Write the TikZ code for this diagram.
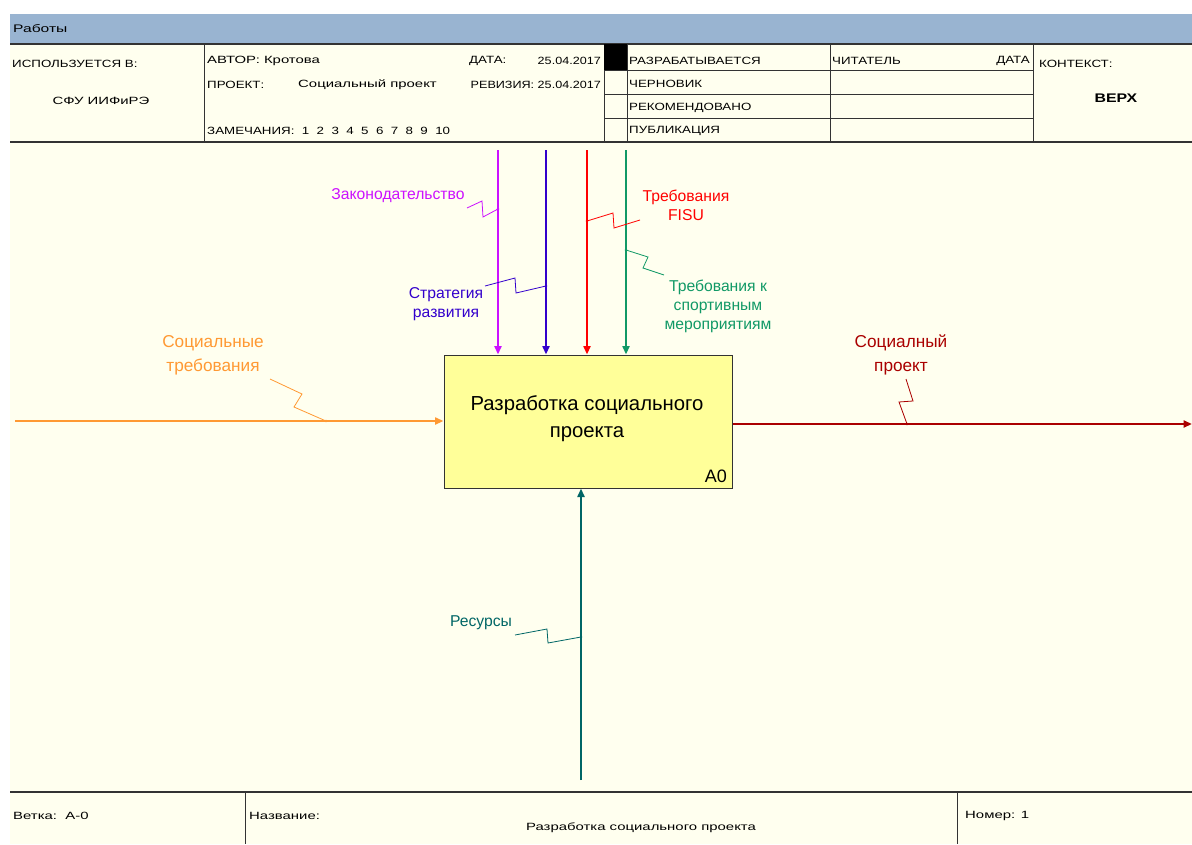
\documentclass[tikz,border=0pt]{standalone}
\usepackage{fontspec}
\setmainfont{Liberation Sans}
\newfontfamily\hdrfont[FakeStretch=1.42]{Liberation Sans}
\newfontfamily\hdrcaps[FakeStretch=1.27]{Liberation Sans}
\newfontfamily\hdrrev[FakeStretch=1.2]{Liberation Sans}
\usetikzlibrary{arrows.meta}
\definecolor{cream}{HTML}{FFFFEF}
\definecolor{barblue}{HTML}{99B4D1}
\definecolor{boxyel}{HTML}{FFFF99}
\definecolor{cpurp}{HTML}{CC11FF}
\definecolor{cblue}{HTML}{3300CC}
\definecolor{cred}{HTML}{FF0000}
\definecolor{cgreen}{HTML}{119966}
\definecolor{corange}{HTML}{FF9933}
\definecolor{cdred}{HTML}{AA0000}
\definecolor{cteal}{HTML}{006666}
\definecolor{rule}{HTML}{333333}
\begin{document}
\begin{tikzpicture}[x=1pt,y=-1pt,
  hdr/.style={font=\hdrfont\fontsize{10.5}{12}\selectfont, inner sep=0pt, anchor=west},
  hcaps/.style={font=\hdrcaps\fontsize{10.5}{12}\selectfont, inner sep=0pt, anchor=west},
  lbl/.style={font=\fontsize{15.7}{19}\selectfont, align=center, inner sep=0pt},
  biglbl/.style={font=\fontsize{17.2}{24}\selectfont, align=center, inner sep=0pt},
  flow/.style={line width=2.3pt, -{Triangle[length=8.5pt,width=7pt]}},
  sq/.style={line width=0.8pt},
  frame/.style={draw=rule, line width=0.8pt}]
\useasboundingbox (0,0) rectangle (1192,844);
\fill[white] (0,0) rectangle (1192,844);
\fill[cream] (10,44) rectangle (1192,844);
% title bar
\fill[barblue] (10,14) rectangle (1192,44);
\node[hdr, font=\hdrfont\fontsize{11}{13}\selectfont] (title) at (13,29) {Работы};
% header frame
\draw[frame, line width=1.4pt] (10,44) -- (1192,44);
\draw[frame, line width=1.4pt] (10,142) -- (1192,142);
\draw[frame] (204,44) -- (204,142);
\draw[frame] (604,44) -- (604,142);
\draw[frame] (627,44) -- (627,142);
\draw[frame] (830,44) -- (830,142);
\draw[frame] (1033,44) -- (1033,142);
\draw[frame] (604,70) -- (1033,70);
\draw[frame] (604,94) -- (1033,94);
\draw[frame] (604,118) -- (1033,118);
\fill[black] (604,44) rectangle (627,70);
% header texts
\node[hcaps] (usedin) at (12,64) {ИСПОЛЬЗУЕТСЯ В:};
\node[hdr, anchor=center] (org) at (101,101) {СФУ ИИФиРЭ};
\node[hdr] (author) at (207,61) {АВТОР: Кротова};
\node[hcaps] (proj) at (207,85) {ПРОЕКТ:};
\node[hdr] (projname) at (298,85) {Социальный проект};
\node[hcaps] (notes) at (207,131) {ЗАМЕЧАНИЯ:\ \ 1\ \ 2\ \ 3\ \ 4\ \ 5\ \ 6\ \ 7\ \ 8\ \ 9\ \ 10};
\node[hcaps] (date) at (469,61) {ДАТА:};
\node[hcaps, font=\hdrrev\fontsize{10.5}{12}\selectfont, anchor=east] (dateval) at (601,61) {25.04.2017};
\node[hcaps, font=\hdrrev\fontsize{10.5}{12}\selectfont, anchor=east] (rev) at (601,85) {РЕВИЗИЯ: 25.04.2017};
\node[hcaps] (st1) at (629,61) {РАЗРАБАТЫВАЕТСЯ};
\node[hcaps] (st2) at (629,84) {ЧЕРНОВИК};
\node[hcaps] (st3) at (629,108) {РЕКОМЕНДОВАНО};
\node[hcaps] (st4) at (629,131) {ПУБЛИКАЦИЯ};
\node[hcaps] (reader) at (832,61) {ЧИТАТЕЛЬ};
\node[hcaps, anchor=east] (rdate) at (1030,61) {ДАТА};
\node[hcaps] (ctx) at (1039,64) {КОНТЕКСТ:};
\node[hdr, anchor=center, font=\hdrcaps\bfseries\fontsize{12.5}{14}\selectfont] (top) at (1116,98) {ВЕРХ};
% footer
\draw[frame, line width=1.6pt] (10,792) -- (1192,792);
\draw[frame] (245,792) -- (245,844);
\draw[frame] (957,792) -- (957,844);
\node[hdr] (branch) at (13,816) {Ветка:\ \ А-0};
\node[hdr] (namel) at (249,816) {Название:};
\node[hdr, anchor=center] (name) at (641,828) {Разработка социального проекта};
\node[hdr] (num) at (965,816) {Номер: 1};
% activity box
\node[draw=rule, line width=1pt, fill=boxyel, minimum width=288pt, minimum height=133pt, inner sep=0pt] (box) at (588,421.5) {};
\node[font=\fontsize{20.3}{27}\selectfont, align=center] (boxtxt) at (587,419) {Разработка социального\\проекта};
\node[font=\fontsize{18}{20}\selectfont, anchor=south east, inner sep=0pt] (a0) at (727,483) {A0};
% controls
\coordinate (c1) at (498,150);
\coordinate (c2) at (546,150);
\coordinate (c3) at (587,150);
\coordinate (c4) at (626,150);
\draw[flow, cpurp] (c1) -- (c1 |- box.north);
\draw[flow, cblue] (c2) -- (c2 |- box.north);
\draw[flow, cred] (c3) -- (c3 |- box.north);
\draw[flow, cgreen] (c4) -- (c4 |- box.north);
% input
\coordinate (in0) at (15,421);
\draw[flow, corange] (in0) -- (in0 -| box.west);
% output
\coordinate (out1) at (1192,424);
\draw[flow, cdred] (out1 -| box.east) -- (out1);
% mechanism
\coordinate (m0) at (581,780);
\draw[flow, cteal] (m0) -- (m0 |- box.south);
% labels
\node[lbl, text=cpurp] (l1) at (398,196) {Законодательство};
\node[lbl, text=cblue] (l2) at (446,304) {Стратегия\\развития};
\node[lbl, text=cred] (l3) at (686,205) {Требования\\FISU};
\node[lbl, text=cgreen] (l4) at (718,306) {Требования к\\спортивным\\мероприятиям};
\node[biglbl, text=corange] (l5) at (213,355) {Социальные\\требования};
\node[biglbl, text=cdred] (l6) at (901,355) {Социалный\\проект};
\node[lbl, text=cteal] (l7) at (481,623) {Ресурсы};
% squiggles
\coordinate (s1a) at (467,208);
\coordinate (s1b) at (498,209);
\draw[sq, cpurp] (s1a) -- (482,201) -- (483,217) -- (s1b);
\fill[cpurp] (s1b) circle (1.3pt);
\coordinate (s2a) at (485,286);
\coordinate (s2b) at (546,286);
\draw[sq, cblue] (s2a) -- (515,278) -- (516,293) -- (s2b);
\fill[cblue] (s2b) circle (1.3pt);
\coordinate (s3a) at (640,220);
\coordinate (s3b) at (587,221);
\draw[sq, cred] (s3a) -- (614,228) -- (613,213) -- (s3b);
\fill[cred] (s3b) circle (1.3pt);
\coordinate (s4a) at (664,275);
\coordinate (s4b) at (626,250);
\draw[sq, cgreen] (s4a) -- (643,268) -- (648,257) -- (s4b);
\fill[cgreen] (s4b) circle (1.3pt);
\coordinate (s5a) at (270,379);
\coordinate (s5b) at (326,421);
\draw[sq, corange] (s5a) -- (302,394) -- (294,407) -- (s5b);
\fill[corange] (s5b) circle (1.3pt);
\coordinate (s6a) at (906,379);
\coordinate (s6b) at (907,424);
\draw[sq, cdred] (s6a) -- (913,401) -- (899,402) -- (s6b);
\fill[cdred] (s6b) circle (1.3pt);
\coordinate (s7a) at (515,635);
\coordinate (s7b) at (581,637);
\draw[sq, cteal] (s7a) -- (547,629) -- (548,643) -- (s7b);
\fill[cteal] (s7b) circle (1.3pt);
\end{tikzpicture}
\end{document}
